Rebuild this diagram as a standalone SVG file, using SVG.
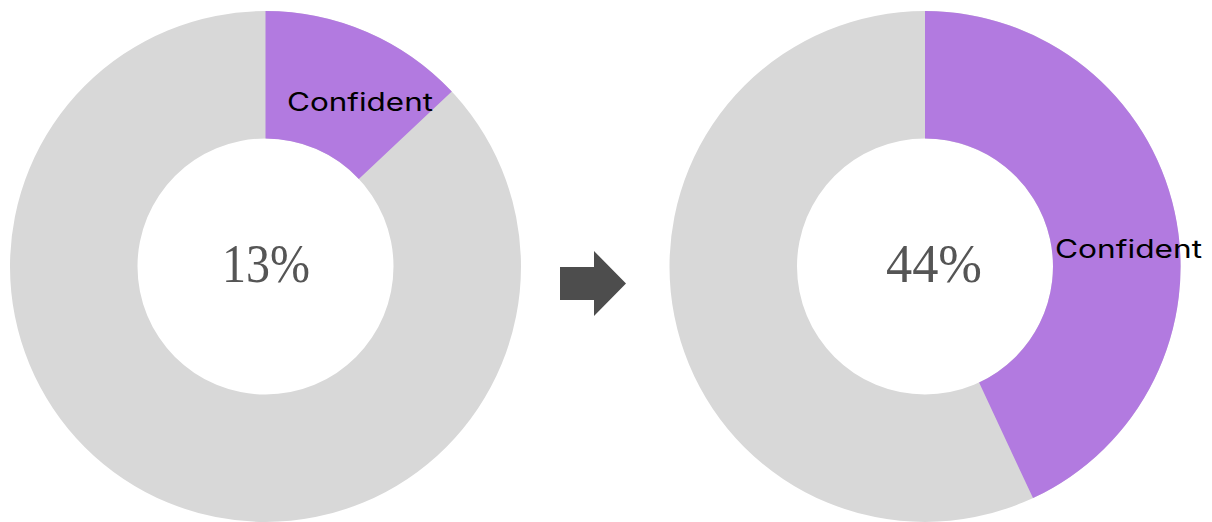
<svg xmlns="http://www.w3.org/2000/svg" width="1212" height="522" viewBox="0 0 1212 522">
  <style>
    .rest { fill: #d8d8d8; fill-rule: evenodd; }
    .conf { fill: #b27ae0; }
    .pct { font-family: "Liberation Serif", "DejaVu Serif", serif; font-size: 54px; fill: #555555; text-anchor: middle; }
    .lbl { font-family: "Inter", "Liberation Sans", sans-serif; font-size: 25px; fill: #000000; }
    .arrow { fill: #4d4d4d; }
  </style>
  <rect width="1212" height="522" fill="#ffffff"/>
  <g id="donut-before">
    <path class="rest" d="M265.5,11 A255.5,255.5 0 1 1 265.5,522 A255.5,255.5 0 1 1 265.5,11 Z M265.5,138.5 A128,128 0 1 0 265.5,394.5 A128,128 0 1 0 265.5,138.5 Z"/>
    <path class="conf" d="M265.5,11 A255.5,255.5 0 0 1 451.8,91.6 L358.8,178.9 A128,128 0 0 0 265.5,138.5 Z"/>
    <text class="lbl" x="287" y="111" textLength="146" lengthAdjust="spacingAndGlyphs">Confident</text>
    <text class="pct" x="266" y="282" textLength="88" lengthAdjust="spacingAndGlyphs">13%</text>
  </g>
  <g id="connectors">
    <polygon class="arrow" points="560,267 594,267 594,251 626,283.5 594,316 594,300 560,300"/>
  </g>
  <g id="donut-after">
    <path class="rest" d="M925,11 A255.5,255.5 0 1 1 925,522 A255.5,255.5 0 1 1 925,11 Z M925,138.5 A128,128 0 1 0 925,394.5 A128,128 0 1 0 925,138.5 Z"/>
    <path class="conf" d="M925,11 A255.5,255.5 0 0 1 1033,498.1 L979.1,382.5 A128,128 0 0 0 925,138.5 Z"/>
    <text class="lbl" x="1055" y="258" textLength="147" lengthAdjust="spacingAndGlyphs">Confident</text>
    <text class="pct" x="934" y="282" textLength="96" lengthAdjust="spacingAndGlyphs">44%</text>
  </g>
</svg>
